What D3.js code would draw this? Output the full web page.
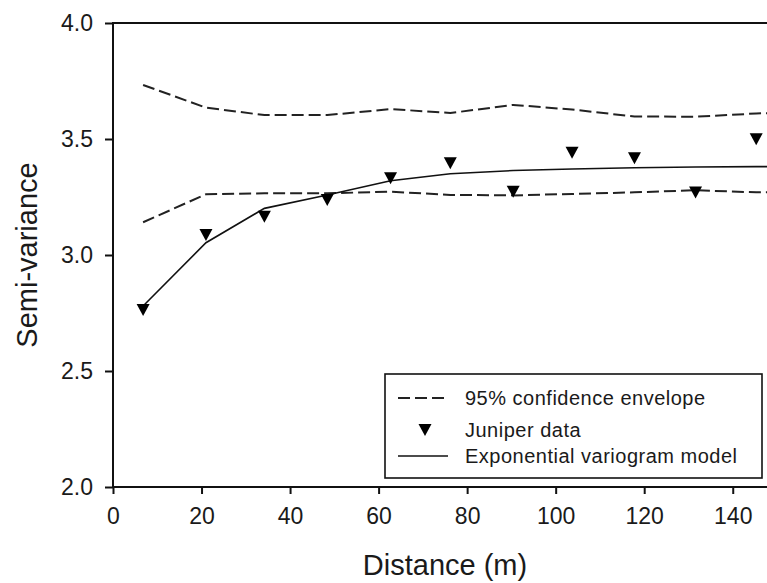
<!DOCTYPE html>
<html>
<head>
<meta charset="utf-8">
<script src="https://cdn.jsdelivr.net/npm/d3@7"></script>
<style>
  body { margin: 0; background: #fff; }
  svg text { font-family: "Liberation Sans", Arial, sans-serif; fill: #1a1a1a; }
</style>
</head>
<body>
<div id="chart"></div>
<script>
// lag distances (m) of the juniper semi-variogram
let lags = [6.8, 21.0, 34.2, 48.4, 62.7, 76.2, 90.4, 103.7, 117.8, 131.6, 145.3];
let juniper = [2.763, 3.086, 3.165, 3.237, 3.331, 3.395, 3.273, 3.441, 3.417, 3.269, 3.499];

// lines run on to the edge of the frame
let lineDist = [6.8, 21.0, 34.2, 48.4, 62.7, 76.2, 90.4, 103.7, 117.8, 131.6, 145.3, 150];
let model = [2.780, 3.053, 3.201, 3.259, 3.320, 3.350, 3.364, 3.371, 3.376, 3.379, 3.381, 3.381];
let upper = [3.733, 3.635, 3.603, 3.603, 3.629, 3.612, 3.647, 3.627, 3.597, 3.596, 3.610, 3.612];
let lower = [3.141, 3.262, 3.266, 3.266, 3.273, 3.259, 3.257, 3.263, 3.270, 3.279, 3.270, 3.270];

let xTicks = [0, 20, 40, 60, 80, 100, 120, 140];
let yTicks = [2.0, 2.5, 3.0, 3.5, 4.0];
let legendLabels = ["95% confidence envelope", "Juniper data", "Exponential variogram model"];

let width = 767, height = 583;
let x = d3.scaleLinear().domain([0, 150]).range([113, 777]);
let y = d3.scaleLinear().domain([2, 4]).range([487, 23]);

let svg = d3.select("#chart").append("svg")
    .attr("width", width)
    .attr("height", height);

svg.append("clipPath").attr("id", "plot-clip")
  .append("rect")
    .attr("x", x(0)).attr("y", y(4))
    .attr("width", x(150) - x(0)).attr("height", y(2) - y(4));

// frame
svg.append("rect")
    .attr("x", x(0)).attr("y", y(4))
    .attr("width", x(150) - x(0)).attr("height", y(2) - y(4))
    .attr("fill", "none")
    .attr("stroke", "#111")
    .attr("stroke-width", 2);

// axes
let xAxis = svg.append("g")
    .attr("transform", "translate(0," + y(2) + ")")
    .call(d3.axisBottom(x).tickValues(xTicks).tickFormat(d3.format("d")).tickSize(7).tickPadding(14));
let yAxis = svg.append("g")
    .attr("transform", "translate(" + x(0) + ",0)")
    .call(d3.axisLeft(y).tickValues(yTicks).tickFormat(d3.format(".1f")).tickSize(8).tickPadding(12));

[xAxis, yAxis].forEach(function(a){
    a.select(".domain").remove();
    a.selectAll("line").attr("stroke", "#111").attr("stroke-width", 2);
    a.selectAll("text")
        .style("font-size", "23px")
        .style("font-family", "\"Liberation Sans\", Arial, sans-serif")
        .attr("fill", "#1a1a1a");
});

// axis titles
svg.append("text")
    .attr("x", (x(0) + x(150)) / 2)
    .attr("y", 575)
    .attr("text-anchor", "middle")
    .style("font-size", "29px")
    .text("Distance (m)");

svg.append("text")
    .attr("transform", "translate(37," + (y(3)) + ") rotate(-90)")
    .attr("text-anchor", "middle")
    .style("font-size", "29px")
    .text("Semi-variance");

// lines
let plot = svg.append("g").attr("clip-path", "url(#plot-clip)");
let line = d3.line().x(d => x(d[0])).y(d => y(d[1]));

[upper, lower].forEach(function(env){
    plot.append("path")
        .datum(lineDist.map((d, i) => [d, env[i]]))
        .attr("d", line)
        .attr("fill", "none")
        .attr("stroke", "#222")
        .attr("stroke-width", 2)
        .attr("stroke-dasharray", "12,5");
});

plot.append("path")
    .datum(lineDist.map((d, i) => [d, model[i]]))
    .attr("d", line)
    .attr("fill", "none")
    .attr("stroke", "#111")
    .attr("stroke-width", 1.6);

// markers: downward triangles
function tri(cx, cy) {
    let p = d3.path();
    p.moveTo(cx - 6.5, cy - 6);
    p.lineTo(cx + 6.5, cy - 6);
    p.lineTo(cx, cy + 6);
    p.closePath();
    return p.toString();
}

svg.selectAll("path.pt")
    .data(lags.map((d, i) => [d, juniper[i]]))
  .enter().append("path")
    .attr("class", "pt")
    .attr("d", d => tri(x(d[0]), y(d[1])))
    .attr("fill", "#000");

// legend
let lg = svg.append("g");
lg.append("rect")
    .attr("x", 385).attr("y", 374)
    .attr("width", 377).attr("height", 104)
    .attr("fill", "#fff")
    .attr("stroke", "#111")
    .attr("stroke-width", 1.6);

let rows = [398, 430, 456];
lg.append("line")
    .attr("x1", 398).attr("x2", 448)
    .attr("y1", rows[0]).attr("y2", rows[0])
    .attr("stroke", "#222").attr("stroke-width", 2)
    .attr("stroke-dasharray", "12,5");
lg.append("path")
    .attr("d", tri(425, rows[1]))
    .attr("fill", "#000");
lg.append("line")
    .attr("x1", 398).attr("x2", 448)
    .attr("y1", rows[2]).attr("y2", rows[2])
    .attr("stroke", "#111").attr("stroke-width", 1.6);

lg.selectAll("text.lg")
    .data(legendLabels)
  .enter().append("text")
    .attr("class", "lg")
    .attr("x", 465)
    .attr("y", (d, i) => rows[i] + 7)
    .style("font-size", "20px")
    .style("letter-spacing", "0.5px")
    .text(d => d);
</script>
</body>
</html>
